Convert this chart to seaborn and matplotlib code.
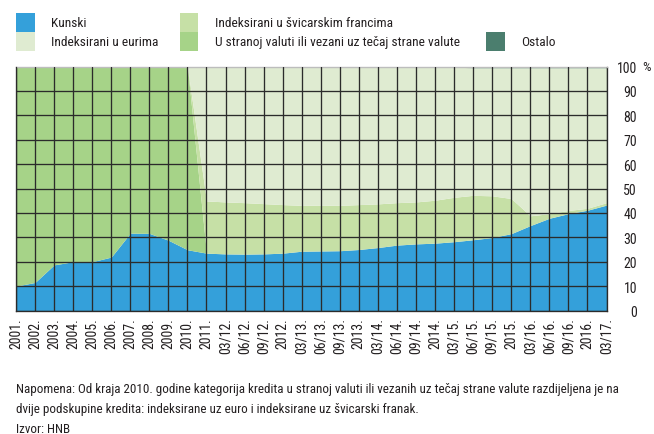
import matplotlib
matplotlib.use("Agg")
import matplotlib.pyplot as plt
from matplotlib import font_manager
from matplotlib.patches import Rectangle
import seaborn as sns
import numpy as np

# ---------------- data ----------------
categories = ["2001.", "2002.", "2003.", "2004.", "2005.", "2006.", "2007.", "2008.",
              "2009.", "2010.", "2011.", "03/12.", "06/12.", "09/12.", "2012.",
              "03/13.", "06/13.", "09/13.", "2013.", "03/14.", "06/14.", "09/14.",
              "2014.", "03/15.", "06/15.", "09/15.", "2015.", "03/16.", "06/16.",
              "09/16.", "2016.", "03/17."]

kunski = [10.0, 11.5, 18.7, 20.0, 20.0, 21.9, 31.7, 31.6, 28.8, 24.9, 23.5, 23.2,
          23.1, 23.2, 23.5, 24.3, 24.4, 24.5, 25.0, 25.8, 26.8, 27.3, 27.6, 28.2,
          29.0, 29.9, 31.5, 34.8, 37.8, 39.7, 41.1, 43.2]
strana_valuta = [90.0, 88.5, 81.3, 80.0, 80.0, 78.1, 68.3, 68.4, 71.2, 75.1,
                 0, 0, 0, 0, 0, 0, 0, 0, 0, 0, 0, 0, 0, 0, 0, 0, 0, 0, 0, 0, 0, 0]
chf = [0, 0, 0, 0, 0, 0, 0, 0, 0, 0, 21.4, 21.3, 21.1, 20.6, 19.9, 18.8, 18.8, 18.6,
       18.4, 17.9, 17.4, 17.2, 17.6, 18.2, 18.2, 17.1, 14.4, 4.0, 1.9, 1.3, 0.8, 1.0]
eur = [0, 0, 0, 0, 0, 0, 0, 0, 0, 0, 55.1, 55.5, 55.8, 56.2, 56.6, 56.9, 56.8, 56.9,
       56.6, 56.3, 55.8, 55.5, 54.8, 53.3, 52.3, 52.5, 53.6, 60.7, 59.8, 58.5, 57.6, 55.3]
ostalo = [0, 0, 0, 0, 0, 0, 0, 0, 0, 0, 0, 0, 0, 0, 0, 0, 0, 0, 0, 0, 0, 0, 0, 0.3,
          0.5, 0.5, 0.5, 0.5, 0.5, 0.5, 0.5, 0.5]

y_ticks = [0, 10, 20, 30, 40, 50, 60, 70, 80, 90, 100]

legend_labels = ["Kunski", "Indeksirani u eurima", "Indeksirani u švicarskim francima",
                 "U stranoj valuti ili vezani uz tečaj strane valute", "Ostalo"]
note_lines = ["Napomena: Od kraja 2010. godine kategorija kredita u stranoj valuti ili vezanih uz tečaj strane valute razdijeljena je na",
              "dvije podskupine kredita: indeksirane uz euro i indeksirane uz švicarski franak.",
              "Izvor: HNB"]

# ---------------- style ----------------
sns.set_theme(style="white")
available = {f.name for f in font_manager.fontManager.ttflist}
font = "DejaVu Sans"
for cand in ["Liberation Sans Narrow", "DejaVu Sans Condensed", "Roboto Condensed",
             "Open Sans Condensed", "Liberation Sans"]:
    if cand in available:
        font = cand
        break
plt.rcParams["font.family"] = [font, "DejaVu Sans"]

c_kun = "#34a0da"
c_eur = "#dfebd1"
c_chf = "#c6e0a6"
c_for = "#a6d388"
c_ost = "#4b7e6e"
grid_c = "#2b2b2b"
txt_c = "#231f20"

W, H = 654, 435
fig = plt.figure(figsize=(W / 100, H / 100), dpi=100)
ax = fig.add_axes([16 / W, 1 - 311.5 / H, (606.5 - 16) / W, (311.5 - 67.5) / H])

x = np.arange(len(categories))
ax.stackplot(x, kunski, strana_valuta, chf, eur, ostalo,
             colors=[c_kun, c_for, c_chf, c_eur, c_ost], linewidth=0, zorder=1)

ax.set_xlim(0, len(categories) - 1)
ax.set_ylim(0, 100)
ax.set_xticks(x)
ax.set_xticklabels(categories, rotation=90, fontsize=10, color=txt_c)
ax.set_yticks(y_ticks)
ax.set_yticklabels([str(v) for v in y_ticks], fontsize=10, color=txt_c)

# grid on top of the areas
for xi in x:
    ax.axvline(xi, color=grid_c, lw=0.95, zorder=3)
for yv in y_ticks[:-1]:
    ax.axhline(yv, color=grid_c, lw=0.95, zorder=3)

ax.tick_params(axis="x", length=0, pad=5)
ax.tick_params(axis="y", left=False, labelleft=False, right=False, labelright=True,
               length=0, pad=22)
for t in ax.get_yticklabels(which="both"):
    t.set_horizontalalignment("right")
for t in ax.yaxis.get_majorticklabels():
    t.set_horizontalalignment("right")

for side in ["left", "bottom", "right"]:
    ax.spines[side].set_color(grid_c)
    ax.spines[side].set_linewidth(0.95)
ax.spines["top"].set_color("#bdbdbd")
ax.spines["top"].set_linewidth(1.0)
ax.set_zorder(2)

fig.text(642 / W, 1 - 68 / H, "%", fontsize=9.5, color=txt_c, ha="left", va="center")

# ---------------- legend (manual) ----------------
def patch(x0, y0, x1, y1, col):
    fig.add_artist(Rectangle((x0 / W, 1 - y1 / H), (x1 - x0) / W, (y1 - y0) / H,
                             transform=fig.transFigure, facecolor=col, edgecolor="none"))

leg = [(16, 14, 35, 33, c_kun, 51, legend_labels[0]),
       (16, 33, 35, 52, c_eur, 51, legend_labels[1]),
       (179.5, 14, 198, 33, c_chf, 215, legend_labels[2]),
       (179.5, 33, 198, 52, c_for, 215, legend_labels[3]),
       (486, 33, 505, 52, c_ost, 521, legend_labels[4])]
for x0, y0, x1, y1, col, tx, lab in leg:
    patch(x0, y0, x1, y1, col)
    fig.text(tx / W, 1 - ((y0 + y1) / 2) / H, lab, fontsize=9.6, color=txt_c,
             ha="left", va="center")

# ---------------- note ----------------
for i, line in enumerate(note_lines):
    fig.text(16 / W, 1 - (390 + 20 * i) / H, line, fontsize=9.4, color=txt_c,
             ha="left", va="center")

fig.savefig("out.png", dpi=100)
